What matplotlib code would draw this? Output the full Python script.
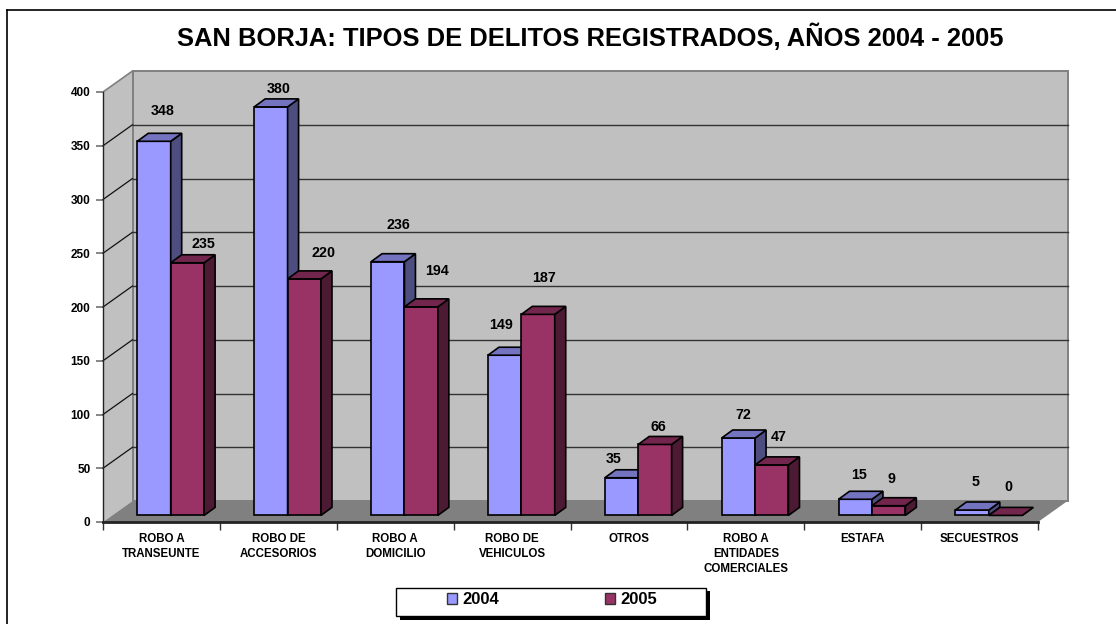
import matplotlib
matplotlib.use('Agg')
import matplotlib.pyplot as plt
from matplotlib.patches import Patch, Polygon, Rectangle
from matplotlib.lines import Line2D

# Datos
categorias = ['ROBO A\nTRANSEUNTE', 'ROBO DE\nACCESORIOS', 'ROBO A\nDOMICILIO', 'ROBO DE\nVEHICULOS',
              'OTROS', 'ROBO A\nENTIDADES\nCOMERCIALES', 'ESTAFA', 'SECUESTROS']
delitos_2004 = [348, 380, 236, 149, 35, 72, 15, 5]
delitos_2005 = [235, 220, 194, 187, 66, 47, 9, 0]
valores_y = [0, 50, 100, 150, 200, 250, 300, 350, 400]

# Desplazamiento de cada etiqueta respecto a su barra (pixeles)
offset_2004 = [(9, 30), (8, 18), (11, 37), (-4, 30), (-8, 19), (5, 23), (4, 24), (3, 28)]
offset_2005 = [(16, 19), (19, 26), (16, 36), (6, 36), (3, 17), (7, 28), (3, 27), (3, 28)]

W, H = 1116, 624
IZQ, DER, ABAJO, ARRIBA = 103, 1038, 522, 92

plt.rcParams['font.family'] = ['Liberation Sans', 'DejaVu Sans']
plt.rcParams['font.weight'] = 'bold'

fig = plt.figure(figsize=(W / 100, H / 100), dpi=100, facecolor='white')
ax = fig.add_axes([IZQ / W, 1 - ABAJO / H, (DER - IZQ) / W, (ABAJO - ARRIBA) / H])
ax.set_xlim(0, len(categorias))
ax.set_ylim(0, 400)
ax.patch.set_visible(False)

# Conversion de pixeles a unidades de los ejes
px_x = len(categorias) / (DER - IZQ)
px_y = 400 / (ABAJO - ARRIBA)

# Profundidad del grafico 3D
fondo_x = 29.5 * px_x
fondo_y = 21 * px_y
prof_x = 11 * px_x
prof_y = 8 * px_y
base_x = 9.3 * px_x
base_y = 6.6 * px_y
ancho = 33.4 * px_x
margen = 25 * px_x
n = len(categorias)

# Paredes y piso
ax.add_patch(Polygon([(0, 0), (fondo_x, fondo_y), (fondo_x, 400 + fondo_y), (0, 400)], closed=True,
                     fc='#c0c0c0', ec='none', clip_on=False, zorder=1))
ax.add_patch(Rectangle((fondo_x, fondo_y), n, 400, fc='#c0c0c0', ec='#808080', lw=1.4, clip_on=False, zorder=1))
ax.add_patch(Polygon([(0, 0), (n, 0), (n + fondo_x, fondo_y), (fondo_x, fondo_y)], closed=True,
                     fc='#808080', ec='none', clip_on=False, zorder=2))

# Lineas de cuadricula
for v in valores_y[1:-1]:
    ax.plot([0, fondo_x], [v, v + fondo_y], color='#111111', lw=0.9, clip_on=False, zorder=2)
    ax.plot([fondo_x, n + fondo_x], [v + fondo_y, v + fondo_y], color='#333333', lw=1, clip_on=False, zorder=2)
ax.plot([0, fondo_x], [400, 400 + fondo_y], color='#808080', lw=1.2, clip_on=False, zorder=2)


def barra(pos, valor, frente, lado, techo, offset):
    izq = pos + base_x
    top = valor + base_y
    ax.bar(izq, valor, ancho, bottom=base_y, align='edge', color=frente, edgecolor='black', lw=1.2,
           clip_on=False, zorder=3)
    ax.add_patch(Polygon([(izq + ancho, base_y), (izq + ancho + prof_x, base_y + prof_y),
                          (izq + ancho + prof_x, top + prof_y), (izq + ancho, top)], closed=True,
                         fc=lado, ec='black', lw=1.2, clip_on=False, zorder=3))
    ax.add_patch(Polygon([(izq, top), (izq + prof_x, top + prof_y), (izq + ancho + prof_x, top + prof_y),
                          (izq + ancho, top)], closed=True, fc=techo, ec='black', lw=1.2, clip_on=False, zorder=3))
    ax.annotate(str(valor), (izq + ancho / 2, top), xytext=offset, textcoords='offset pixels',
                ha='center', va='center', fontsize=10.3, color='black', annotation_clip=False, zorder=5)


for i in range(n):
    barra(i + margen, delitos_2004[i], '#9999ff', '#4d4d80', '#7373bf', offset_2004[i])
    barra(i + margen + ancho, delitos_2005[i], '#993366', '#4d1a33', '#73264d', offset_2005[i])

# Ejes
for lado in ['top', 'right']:
    ax.spines[lado].set_visible(False)
ax.spines['left'].set_linewidth(1)
ax.spines['bottom'].set_linewidth(2)
ax.spines['left'].set_color('#222222')
ax.spines['bottom'].set_color('#222222')
ax.spines['left'].set_zorder(4)
ax.spines['bottom'].set_zorder(4)

ax.set_yticks(valores_y)
ax.set_yticklabels([str(v) for v in valores_y], fontsize=8.5)
ax.tick_params(axis='y', length=5, width=1.1, color='#666666', pad=4)
ax.set_xticks(range(n + 1))
ax.set_xticklabels([])
ax.tick_params(axis='x', which='major', length=6, width=1, color='#333333')
ax.set_xticks([i + 0.5 for i in range(n)], minor=True)
ax.set_xticklabels(categorias, minor=True, fontsize=8.3, linespacing=1.33)
ax.tick_params(axis='x', which='minor', length=0, pad=8)

# Titulo
fig.text(590 / W, 1 - 37 / H, 'SAN BORJA: TIPOS DE DELITOS REGISTRADOS, AÑOS 2004 - 2005',
         ha='center', va='center', fontsize=18.4)

# Borde del grafico (solo arriba e izquierda entran en la imagen)
fig.add_artist(Line2D([6.5 / W, 6.5 / W], [0, 1 - 10 / H], color='black', lw=1.2))
fig.add_artist(Line2D([6.5 / W, 1], [1 - 10 / H, 1 - 10 / H], color='black', lw=1.2))

# Leyenda
fig.add_artist(Rectangle((399.5 / W, 1 - 620 / H), 310.5 / W, 29 / H, transform=fig.transFigure,
                         fc='black', ec='none'))
fig.add_artist(Rectangle((395.5 / W, 1 - 615.5 / H), 310 / W, 28 / H, transform=fig.transFigure,
                         fc='white', ec='black', lw=1))
manijas = [Patch(fc='#9999ff', ec='#333333', lw=1, label='2004'),
           Patch(fc='#993366', ec='#333333', lw=1, label='2005')]
fig.legend(handles=manijas, ncol=2, frameon=False, loc='center', bbox_to_anchor=(552 / W, 1 - 600 / H),
           fontsize=12, handlelength=0.6, handleheight=0.6, handletextpad=0.35, columnspacing=6.3,
           borderpad=0, borderaxespad=0)

plt.savefig('out.png', dpi=100, facecolor='white')
plt.close()
